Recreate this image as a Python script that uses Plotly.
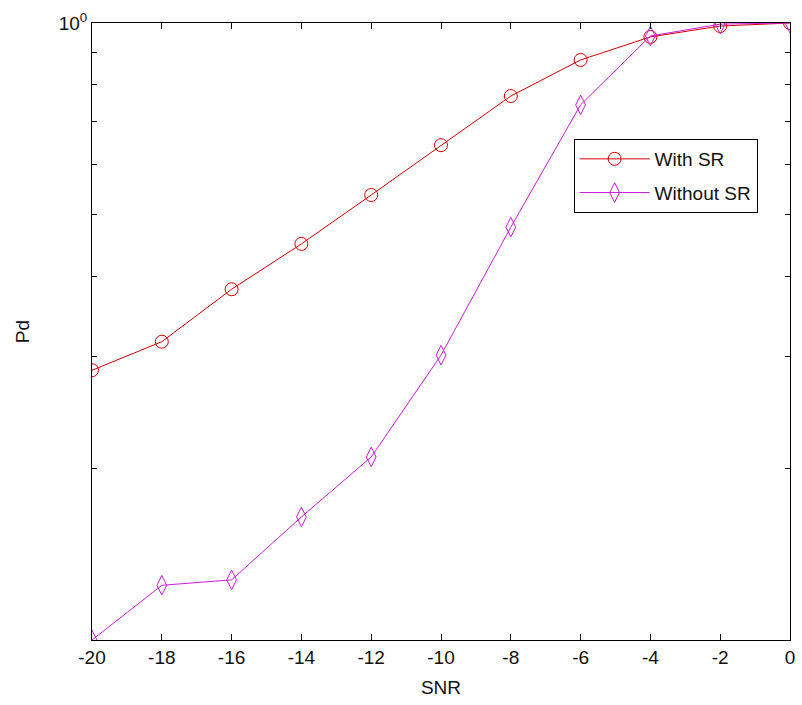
import plotly.graph_objects as go
import math

snr = [-20, -18, -16, -14, -12, -10, -8, -6, -4, -2, 0]
pd_with_sr = [0.285, 0.316, 0.382, 0.450, 0.537, 0.643, 0.768, 0.875, 0.951, 0.989, 1.0]
pd_without_sr = [0.1075, 0.131, 0.1336, 0.1677, 0.2083, 0.301, 0.478, 0.744, 0.954, 0.996, 1.0]

x_ticks = list(range(-20, 1, 2))
y_major = [1.0]
y_major_text = ["10<sup>0</sup>"]
y_minor = [0.2, 0.3, 0.4, 0.5, 0.6, 0.7, 0.8, 0.9]

red = "#d40000"
mag = "#c81ed8"

fig = go.Figure()
fig.add_trace(go.Scatter(
    x=snr, y=pd_with_sr, name="With SR", mode="lines+markers", legendgroup="a",
    line=dict(color=red, width=1),
    marker=dict(symbol="circle-open", size=13, color=red, line=dict(width=1, color=red)),
))
fig.add_trace(go.Scatter(
    x=snr, y=pd_without_sr, name="Without SR", mode="lines+markers", legendgroup="b",
    line=dict(color=mag, width=1),
    marker=dict(symbol="diamond-tall-open", size=14, color=mag, line=dict(width=1, color=mag)),
))

fam = "Liberation Sans Narrow, Arial Narrow, Liberation Sans, sans-serif"
font = dict(family=fam, size=19, color="#111111")

fig.update_layout(
    width=802, height=705,
    margin=dict(l=92, r=7, t=23, b=65),
    paper_bgcolor="white", plot_bgcolor="white",
    font=font,
    showlegend=True,
    legend=dict(
        x=0.69, y=0.812, xanchor="left", yanchor="top",
        bgcolor="white", bordercolor="black", borderwidth=1,
        font=font, traceorder="grouped",
        tracegroupgap=6, itemwidth=70,
    ),
    xaxis=dict(
        range=[-20, 0], tickvals=x_ticks, ticktext=[str(v) for v in x_ticks],
        ticks="inside", ticklen=6, tickcolor="black", tickwidth=1,
        showline=True, linecolor="black", linewidth=1, mirror="ticks",
        showgrid=False, zeroline=False, tickfont=font,
        title=dict(text="SNR", standoff=13, font=font),
    ),
    yaxis=dict(
        type="log", range=[math.log10(0.1075), 0],
        tickvals=y_major, ticktext=y_major_text,
        ticks="inside", ticklen=5, tickcolor="black", tickwidth=1,
        minor=dict(tickvals=y_minor, ticks="inside", ticklen=5,
                   tickcolor="black", tickwidth=1, showgrid=False),
        showline=True, linecolor="black", linewidth=1, mirror="ticks",
        showgrid=False, zeroline=False, tickfont=font,
        title=dict(text="Pd", standoff=24, font=font),
    ),
)

fig.write_html("out.html")
